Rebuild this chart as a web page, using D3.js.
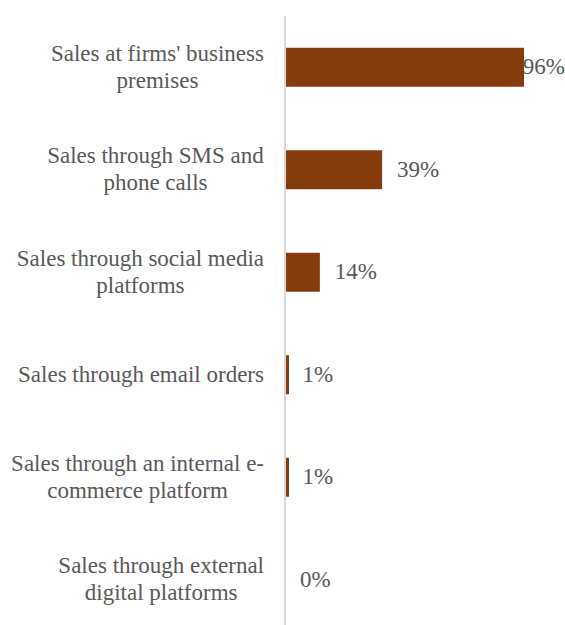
<!DOCTYPE html>
<html>
<head>
<meta charset="utf-8">
<script src="https://cdn.jsdelivr.net/npm/d3@7"></script>
<style>
  html, body { margin: 0; padding: 0; background: #fff; }
  svg { display: block; }
  text { font-family: "Liberation Serif", "DejaVu Serif", serif; fill: #595959; }
</style>
</head>
<body>
<svg id="chart" width="565" height="625"></svg>
<script>
// Sales channels (label lines) and share of firms using each
const categories = [
  "Sales at firms' business\npremises",
  "Sales through SMS and\nphone calls",
  "Sales through social media\nplatforms",
  "Sales through email orders",
  "Sales through an internal e-\ncommerce platform",
  "Sales through external\ndigital platforms"
];
const values = [96, 39, 14, 1, 1, 0];
const valueLabels = ["96%", "39%", "14%", "1%", "1%", "0%"];

const W = 565, H = 625;
const axisX = 285;
const fontSize = 23;

const svg = d3.select("#chart");

const x = d3.scaleLinear().domain([0, 100]).range([axisX, axisX + 249]);
const y = d3.scaleBand()
  .domain(categories)
  .range([16, 631])
  .paddingInner(0.62)
  .paddingOuter(0.31);

// bars
svg.append("g").selectAll("rect")
  .data(values)
  .join("rect")
  .attr("x", axisX)
  .attr("y", (d, i) => y(categories[i]))
  .attr("width", d => Math.max(0, x(d) - axisX + (d > 0 && d < 2 ? 1.5 : 0)))
  .attr("height", y.bandwidth())
  .attr("fill", "#843C0C");

// category axis line
svg.append("line")
  .attr("x1", axisX).attr("x2", axisX)
  .attr("y1", 16).attr("y2", H)
  .attr("stroke", "#d9d9d9")
  .attr("stroke-width", 2);

// category labels, each block right-aligned with lines centred within it
const labelRight = 264;
const lineH = 27;
const baseShift = 7;
categories.forEach((c, i) => {
  const lines = c.split("\n");
  const cy = y(c) + y.bandwidth() / 2;
  const g = svg.append("g");
  const t = g.append("text")
    .attr("font-size", fontSize)
    .attr("text-anchor", "middle");
  lines.forEach((ln, k) => {
    t.append("tspan")
      .attr("x", 0)
      .attr("y", cy + (k - (lines.length - 1) / 2) * lineH + baseShift)
      .text(ln);
  });
  const bb = t.node().getBBox();
  g.attr("transform", `translate(${labelRight - bb.width / 2},0)`);
});

// value labels, kept inside the chart at the right edge
svg.append("g").selectAll("text")
  .data(values)
  .join("text")
  .attr("font-size", fontSize)
  .attr("y", (d, i) => y(categories[i]) + y.bandwidth() / 2 + baseShift)
  .text((d, i) => valueLabels[i])
  .attr("x", function(d) {
    const w = this.getComputedTextLength();
    return Math.min(x(d) + 15, W - w);
  });
</script>
</body>
</html>
